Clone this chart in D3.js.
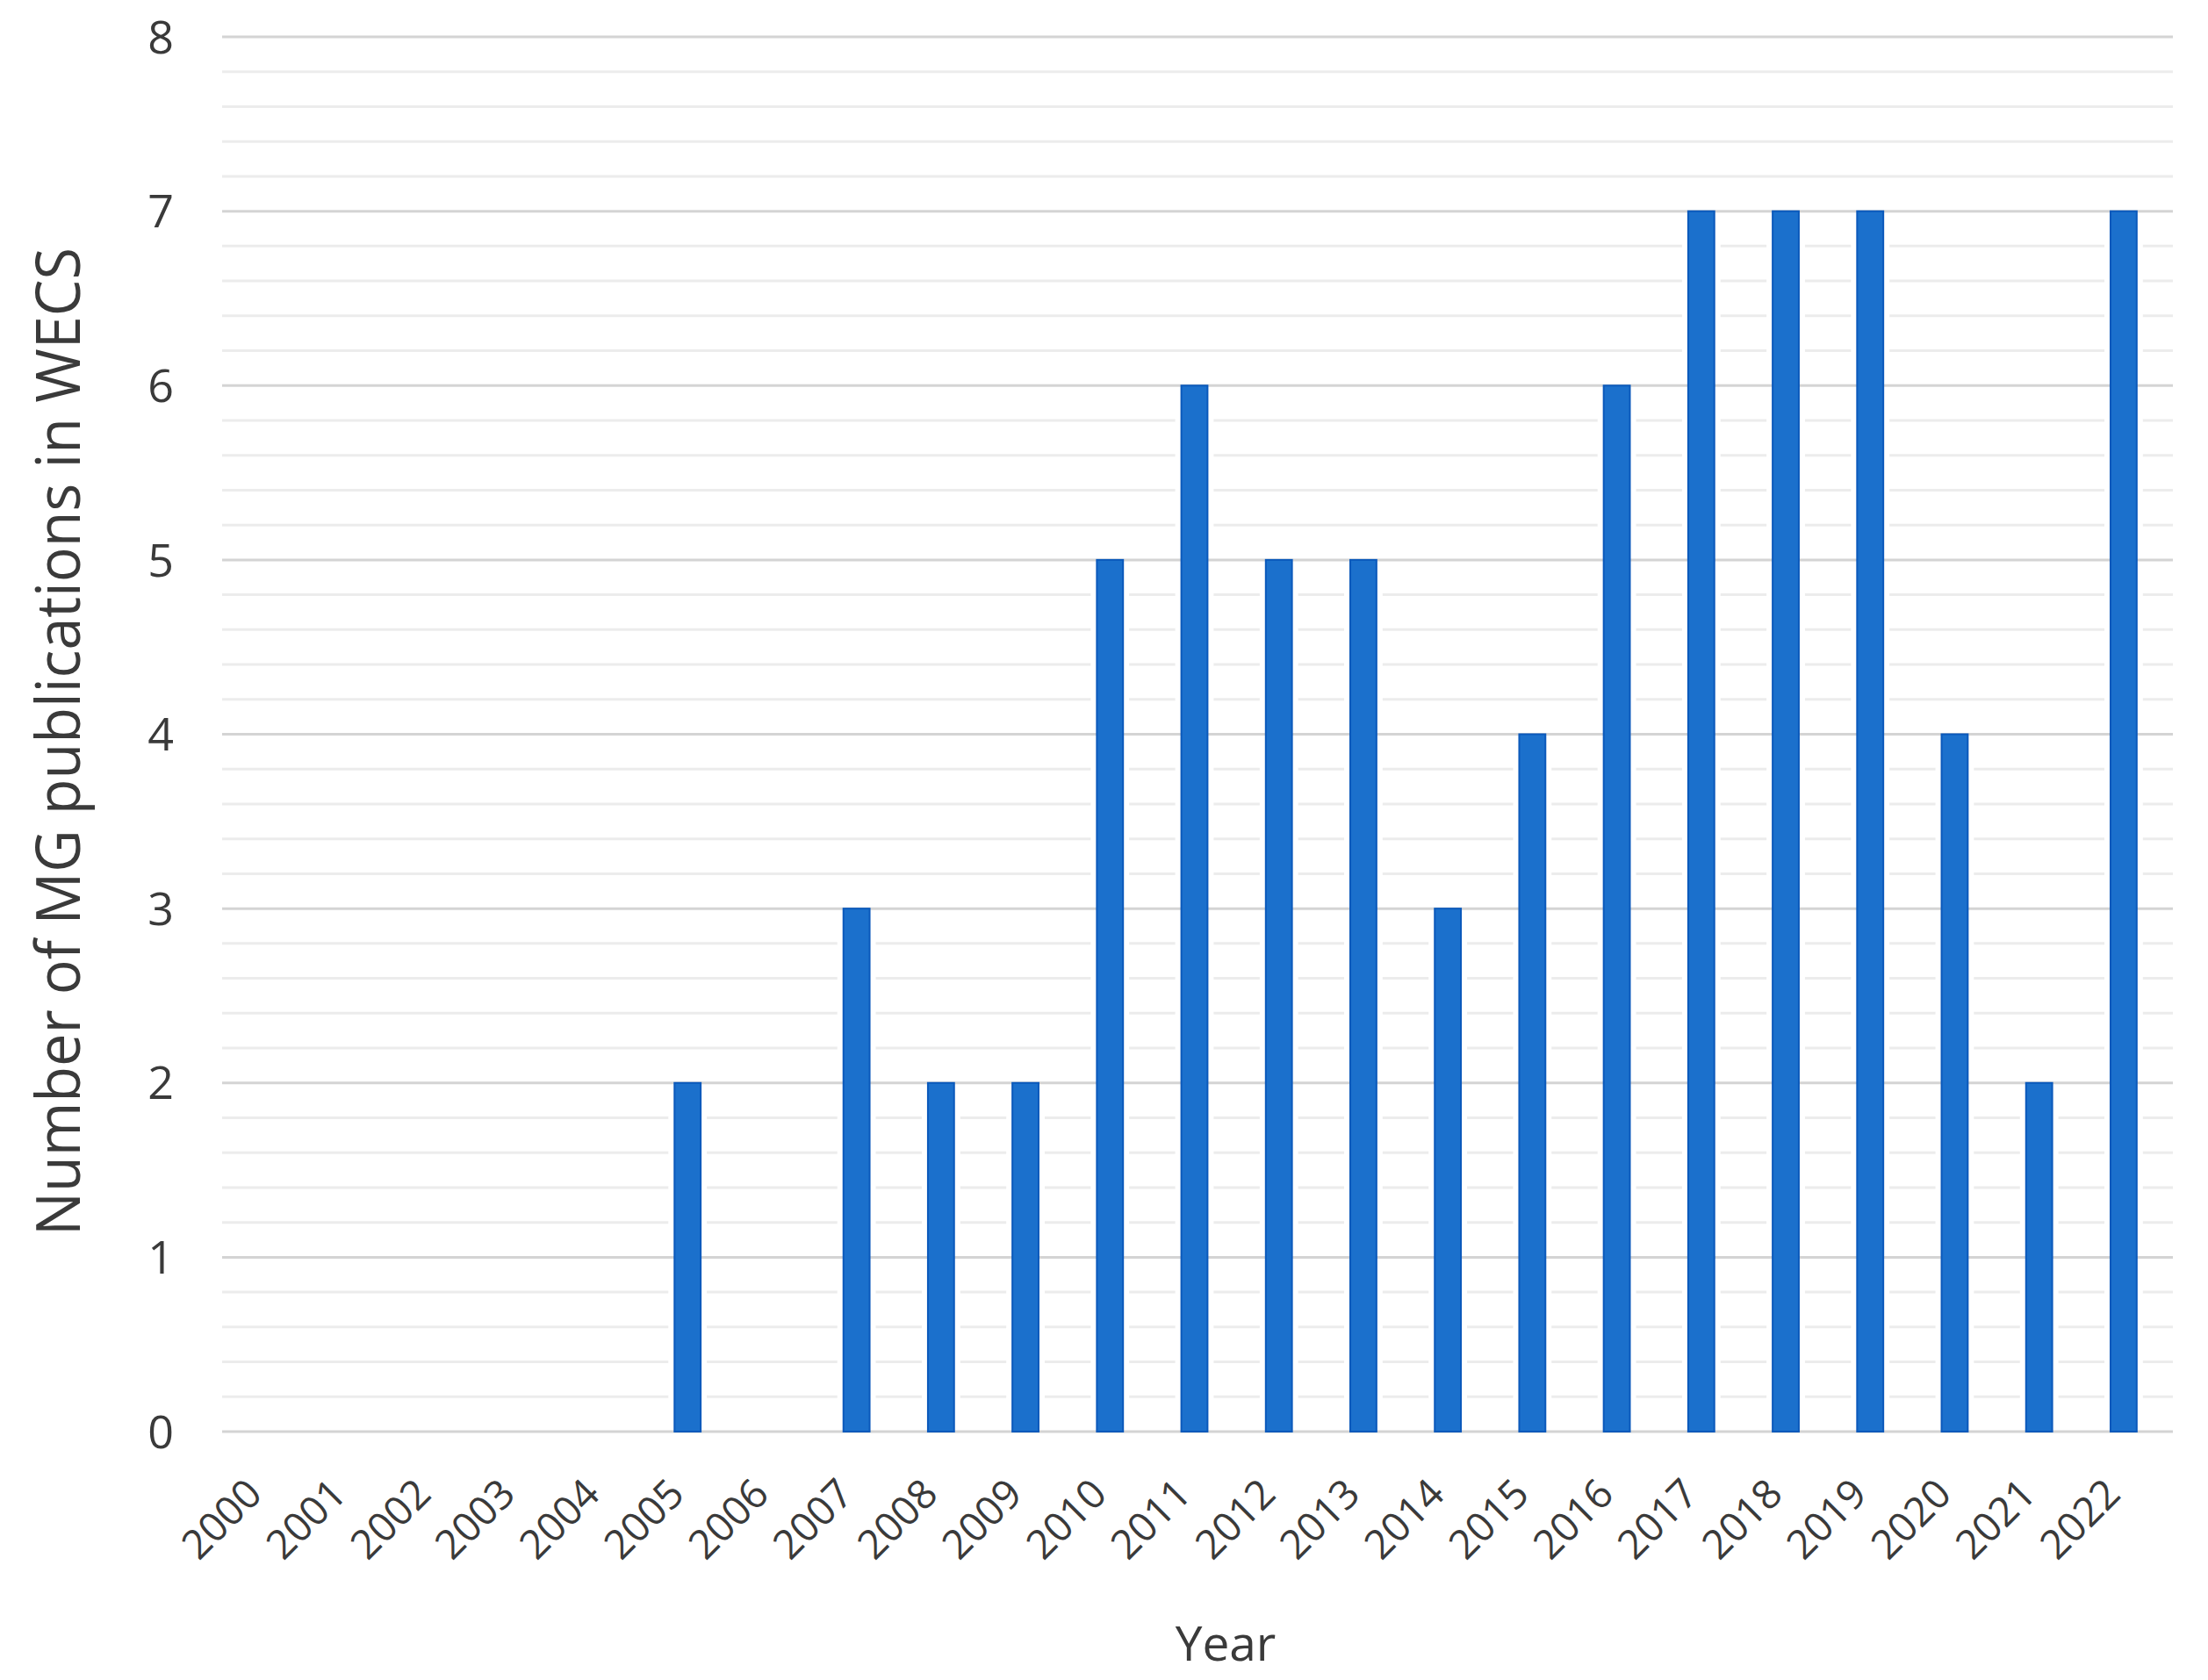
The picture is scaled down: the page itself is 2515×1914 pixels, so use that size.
<!DOCTYPE html>
<html>
<head>
<meta charset="utf-8">
<script src="https://cdn.jsdelivr.net/npm/d3@7"></script>
<style>
  html, body { margin: 0; padding: 0; background: #fff; }
  svg { display: block; }
  text { font-family: "Open Sans", "Noto Sans", sans-serif; fill: #3a3a3a; }
</style>
</head>
<body>
<svg id="chart" width="2515" height="1914"></svg>
<script>
const years = ["2000","2001","2002","2003","2004","2005","2006","2007","2008","2009","2010","2011","2012","2013","2014","2015","2016","2017","2018","2019","2020","2021","2022"];
const counts = [0,0,0,0,0,2,0,3,2,2,5,6,5,5,3,4,6,7,7,7,4,2,7];
const yTicks = [0,1,2,3,4,5,6,7,8];
const minorTicks = d3.range(0, 8.0001, 0.2).filter(v => Math.abs(v - Math.round(v)) > 1e-6);
const yTitle = "Number of MG publications in WECS";
const xTitle = "Year";

const svg = d3.select("#chart");
const plotLeft = 253, plotRight = 2475, plotTop = 42, plotBottom = 1631;

const x = d3.scaleBand().domain(years).range([254, 2467]).paddingInner(0.69).paddingOuter(0.345);
const y = d3.scaleLinear().domain([0, 8]).range([plotBottom, plotTop]);

// minor gridlines
svg.append("g").selectAll("line").data(minorTicks).join("line")
  .attr("x1", plotLeft).attr("x2", plotRight)
  .attr("y1", d => y(d)).attr("y2", d => y(d))
  .attr("stroke", "#ececec").attr("stroke-width", 3);

// white halo around bars (cuts minor gridlines like the reference)
svg.append("g").selectAll("rect").data(years.map((yr, i) => ({yr, v: counts[i]})).filter(d => d.v > 0)).join("rect")
  .attr("x", d => x(d.yr) - 7).attr("width", x.bandwidth() + 14)
  .attr("y", d => y(d.v) - 6).attr("height", d => y(0) - y(d.v) + 6)
  .attr("fill", "#fff");

// major gridlines
svg.append("g").selectAll("line").data(yTicks).join("line")
  .attr("x1", plotLeft).attr("x2", plotRight)
  .attr("y1", d => y(d)).attr("y2", d => y(d))
  .attr("stroke", "#d4d4d4").attr("stroke-width", 3);

// bars
svg.append("g").selectAll("rect").data(years.map((yr, i) => ({yr, v: counts[i]})).filter(d => d.v > 0)).join("rect")
  .attr("x", d => x(d.yr)).attr("width", x.bandwidth())
  .attr("y", d => y(d.v)).attr("height", d => y(0) - y(d.v))
  .attr("fill", "#1b70cc").attr("stroke", "#0b59bb").attr("stroke-width", 2);

// y tick labels
svg.append("g").selectAll("text").data(yTicks).join("text")
  .attr("x", 198).attr("y", d => y(d)).attr("dy", "0.36em")
  .attr("text-anchor", "end").attr("font-size", 52)
  .text(d => d);

// x tick labels
svg.append("g").selectAll("text").data(years).join("text")
  .attr("transform", d => `translate(${x(d) + x.bandwidth()/2 - 13},${1693}) rotate(-45)`)
  .attr("text-anchor", "end").attr("dy", "0.36em").attr("font-size", 46)
  .text(d => d);

// axis titles
svg.append("text")
  .attr("transform", "translate(91,845) rotate(-90)")
  .attr("text-anchor", "middle").attr("font-size", 70)
  .attr("textLength", 1126).attr("lengthAdjust", "spacingAndGlyphs")
  .text(yTitle);

svg.append("text")
  .attr("x", 1396).attr("y", 1892)
  .attr("text-anchor", "middle").attr("font-size", 55)
  .text(xTitle);
</script>
</body>
</html>
